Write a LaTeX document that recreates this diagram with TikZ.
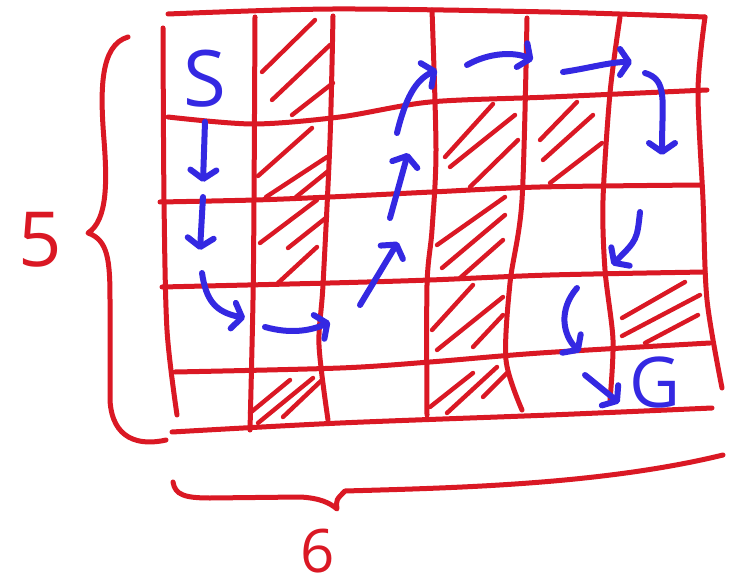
\documentclass[tikz,border=0pt]{standalone}
\usepackage{fontspec}
\usetikzlibrary{arrows.meta}

\newfontfamily\handfont{Open Sans}
\definecolor{sketchred}{RGB}{218,24,36}
\definecolor{sketchblue}{RGB}{52,40,226}

\begin{document}
\begin{tikzpicture}[
    x=1pt, y=-1pt,
    gridline/.style={sketchred, line width=5pt, line cap=round, line join=round},
    hatchline/.style={sketchred, line width=4.4pt, line cap=round},
    brace/.style={sketchred, line width=5pt, line cap=round, line join=round},
    move/.style={sketchblue, line width=6pt, line cap=round,
      -{Straight Barb[length=9pt,width=26pt,round]}},
    letter/.style={text=sketchblue, inner sep=0pt, font=\handfont\fontsize{78}{78}\selectfont},
    count/.style={text=sketchred, inner sep=0pt, font=\handfont\fontsize{76}{76}\selectfont}
  ]
    \useasboundingbox (0,0) rectangle (733,588);
    \fill[white] (0,0) rectangle (733,588);

    % columns
    \draw[gridline] plot[smooth] coordinates {(163,28) (164,200) (167,330) (177,415)};
    \draw[gridline] plot[smooth] coordinates {(255,17) (254,200) (253,300) (250,430)};
    \draw[gridline] plot[smooth] coordinates {(333,16) (330,140) (323,285) (319,345) (328,420)};
    \draw[gridline] plot[smooth] coordinates {(432,10) (436,150) (432,230) (427,285) (427,415)};
    \draw[gridline] plot[smooth] coordinates {(527,18) (522,200) (510,283) (506,360) (522,410)};
    \draw[gridline] plot[smooth] coordinates {(620,17) (610,93) (603,200) (605,270) (613,340) (610,400)};
    \draw[gridline] plot[smooth] coordinates {(705,17) (698,90) (703,200) (707,300) (722,388)};

    % rows
    \draw[gridline] plot[smooth] coordinates {(168,14) (333,9) (550,12) (705,17)};
    \draw[gridline] plot[smooth] coordinates {(168,117) (253,124) (340,117) (430,102) (550,97) (707,90)};
    \draw[gridline] plot[smooth] coordinates {(160,202) (255,200) (330,197) (432,192) (540,187) (700,185)};
    \draw[gridline] plot[smooth] coordinates {(162,287) (330,283) (430,280) (550,275) (705,272)};
    \draw[gridline] plot[smooth] coordinates {(175,372) (340,368) (430,362) (540,353) (710,343)};
    \draw[gridline] plot[smooth] coordinates {(172,432) (340,423) (550,415) (712,408)};

    % blocked cells
    \foreach \xa/\ya/\xb/\yb in {
        262/72/315/20, 272/100/330/45, 292/115/333/83,
        258/176/312/128, 266/197/327/157, 296/197/327/172,
        260/243/317/200, 288/248/327/217, 278/283/317/247,
        250/413/290/380, 258/423/313/378, 283/417/322/380,
        445/157/493/104, 450/167/515/115, 470/187/518/140,
        437/245/505/197, 442/268/505/215, 460/278/503/240,
        432/330/473/285, 437/350/503/297, 473/347/503/315,
        430/407/473/373, 447/413/497/367, 483/397/507/373,
        540/140/577/102, 543/160/593/115, 550/183/602/143,
        622/318/685/282, 622/336/700/295, 645/343/698/315}
      \draw[hatchline] (\xa,\ya) -- (\xb,\yb);

    % braces
    \draw[brace] (128,37) .. controls (100,45) and (100,90) .. (104,140)
      .. controls (107,180) and (108,220) .. (88,233)
      .. controls (108,240) and (110,260) .. (110,300)
      -- (110,400) .. controls (112,440) and (140,446) .. (166,440);
    \draw[brace] (173,482) .. controls (175,495) and (185,498) .. (210,498)
      -- (300,497) .. controls (320,498) and (330,503) .. (337,509)
      .. controls (336,500) .. (345,491)
      .. controls (450,488) and (600,485) .. (723,455);

    \node[letter] (S) at (205,79) {S};
    \node[letter, font=\handfont\fontsize{70}{70}\selectfont] (G) at (655,382) {G};
    \node[count] (rows) at (40,240) {5};
    \node[count, font=\handfont\fontsize{60}{60}\selectfont] (cols) at (318,551) {6};

    % path from S to G
    \draw[move] ([yshift=-14pt]S.south) -- (203,182);
    \draw[move] (203,197) -- (200,250);
    \draw[move] (202,273) .. controls (206,300) and (215,312) .. (245,318);
    \draw[move] (265,327) .. controls (290,334) and (310,331) .. (330,322);
    \draw[move] (360,305) -- (398,242);
    \draw[move] (390,218) -- (408,153);
    \draw[move] (397,133) .. controls (405,100) and (415,80) .. (437,70);
    \draw[move] (467,65) .. controls (490,52) and (515,52) .. (533,60);
    \draw[move] (563,72) .. controls (590,68) and (610,62) .. (632,62);
    \draw[move] (645,73) .. controls (668,80) and (662,100) .. (662,155);
    \draw[move] (640,212) .. controls (637,240) .. (612,265);
    \draw[move] (577,288) .. controls (558,310) and (563,335) .. (580,352);
    \draw[move] (585,375) -- ([shift={(-10,-5)}]G.south west);
\end{tikzpicture}
\end{document}
